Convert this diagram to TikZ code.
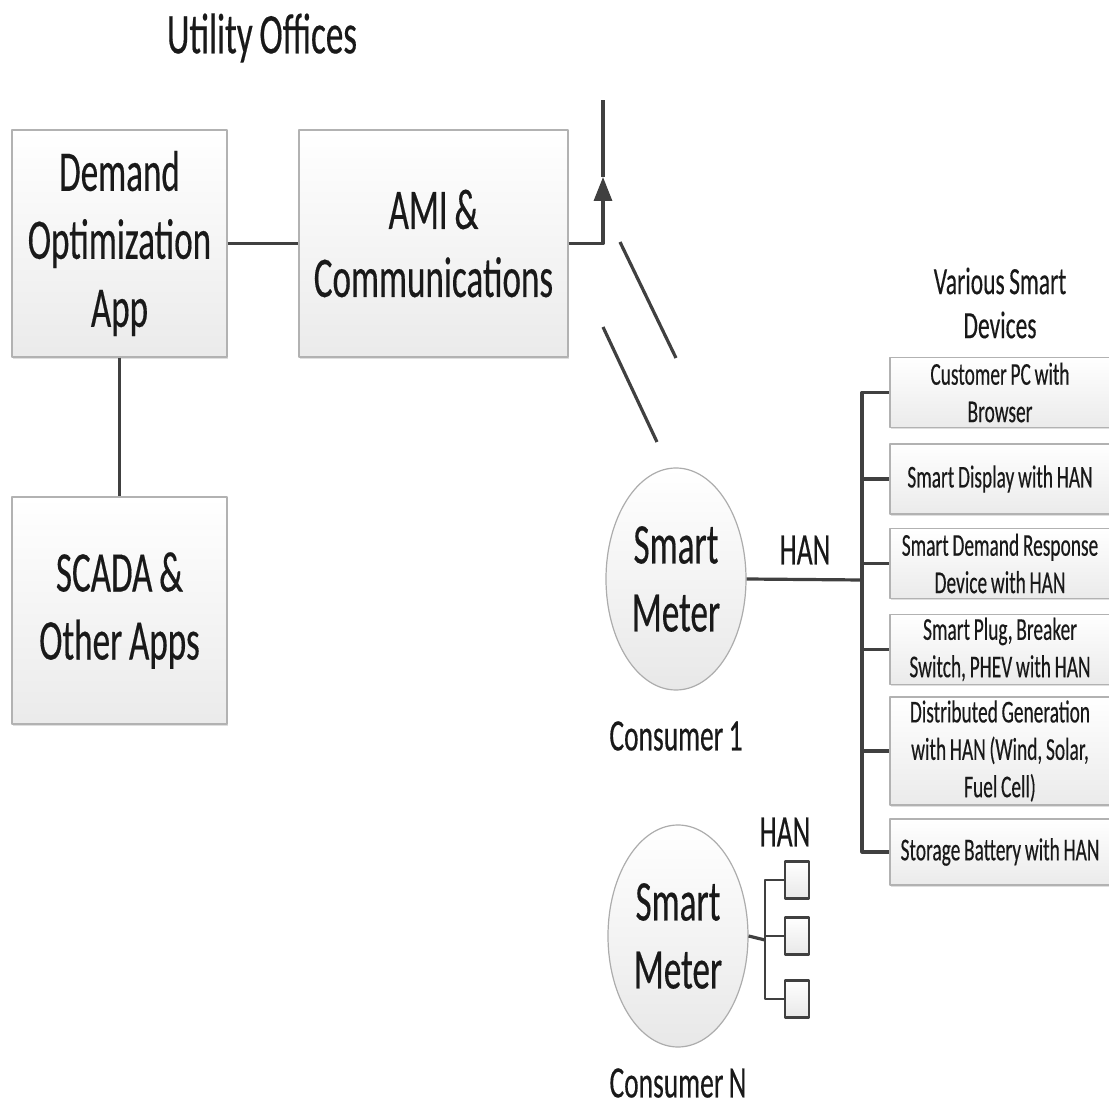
\documentclass[tikz,border=0pt]{standalone}
\usepackage{fontspec}
\setmainfont{Carlito}[FakeStretch=0.61,WordSpace=0.85,FakeBold=0.3]
\usetikzlibrary{shapes.geometric,arrows.meta,shadows}
\begin{document}
\begin{tikzpicture}[x=0.5pt,y=-0.5pt,line join=round,>={Triangle[width=9pt,length=12pt]},text=black!90]
\tikzset{bx/.style={draw=gray!60,line width=0.7pt,top color=white,bottom color=gray!16,align=center,inner sep=0pt,drop shadow={shadow xshift=0.5pt,shadow yshift=-1pt,opacity=0.25}},
	big/.style={font=\fontsize{28.75}{34}\selectfont},
	mid/.style={font=\fontsize{22.5}{27}\selectfont},
	sml/.style={font=\fontsize{15.9}{18.7}\selectfont},
	ubox/.style={bx,big,minimum height=113.5pt},
	dev/.style={bx,sml,minimum width=110pt,minimum height=35pt},
	meter/.style={ellipse,draw=gray!65,line width=0.6pt,top color=white,bottom color=gray!18,big,minimum width=70pt,minimum height=111pt,inner sep=0pt,align=center},
	tiny/.style={draw=black!75,line width=1.1pt,top color=white,bottom color=gray!18,minimum width=12pt,minimum height=18.5pt,inner sep=0pt},
	wire/.style={draw=black!75,line width=1.6pt}}
\useasboundingbox (0,0) rectangle (1109,1106);

\path(262,38)node[big](uo){Utility Offices};
\path(119.5,243.5)node[ubox,minimum width=107.5pt](dem){Demand\\Optimization\\App}
	++(314,0)node[ubox,minimum width=134.5pt](ami){AMI \&\\Communications};
\path(119.5,610.5)node[ubox,minimum width=107.5pt](scada){SCADA \&\\Other Apps};
\path(603,177)coordinate(tip)++(0,-77)coordinate(uplink);

\path(676,579)node[meter](m1){Smart\\Meter}++(0,157)node[mid](c1){Consumer 1};
\path(805,550)node[mid](han1){HAN};
\path(1000,303)node[align=center,font=\fontsize{19.3}{22}\selectfont](vsd){Various Smart\\Devices};
\path(862,580)coordinate(bus);
\path(1000,392.5)node[dev](d1){Customer PC with\\Browser}
	(1000,479)node[dev](d2){Smart Display with HAN}
	(1000,563.5)node[dev](d3){Smart Demand Response\\Device with HAN}
	(1000,649.5)node[dev](d4){Smart Plug, Breaker\\Switch, PHEV with HAN}
	(1000,751)node[dev,minimum height=54pt](d5){Distributed Generation\\with HAN (Wind, Solar,\\Fuel Cell)}
	(1000,852)node[dev,minimum height=33pt](d6){Storage Battery with HAN};

\path(678,936)node[meter](mN){Smart\\Meter}++(0,147)node[mid](cN){Consumer N};
\path(785,832)node[mid](hanN){HAN};
\path(765,940)coordinate(hub);
\path(797,880)node[tiny](s1){}(797,936)node[tiny](s2){}(797,999)node[tiny](s3){};

\foreach \x/\y in {dem/ami,m1/bus,mN/hub}{
	\draw[wire] (\x.east)--(\y);	}
\draw[wire] (dem.south)--(scada.north);
\draw[wire,->] (ami.east)-|(tip);
\draw[wire] (tip)--(uplink);
\draw[wire] (620,242)--(676,358) (603,327)--(657,442);
\foreach \d in {d1,d2,d3,d4,d5,d6}{
	\draw[wire] (bus)|-(\d.west);	}
\foreach \s in {s1,s2,s3}{
	\draw[wire,line width=1.1pt] (hub)|-(\s.west);	}
\end{tikzpicture}
\end{document}
